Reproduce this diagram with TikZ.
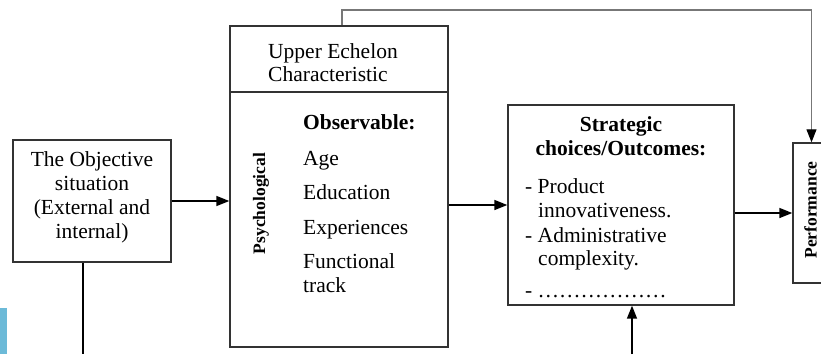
\documentclass[tikz,border=0pt]{standalone}
\usepackage{fontspec}
\setmainfont{Liberation Serif}
\usetikzlibrary{arrows.meta}
\definecolor{boxline}{HTML}{333333}
\definecolor{fbline}{HTML}{777777}
\definecolor{tabblue}{HTML}{6CBAD8}
\tikzset{
  box/.style={draw=boxline, line width=1.4pt, inner sep=0pt},
  arr/.style={draw=black, line width=1.6pt, -{Triangle[length=13pt,width=10pt]}},
  plain/.style={draw=black, line width=1.6pt},
  txt/.style={inner sep=0pt, font=\fontsize{21.5}{24}\selectfont},
  btxt/.style={inner sep=0pt, font=\fontsize{21.5}{24}\selectfont\bfseries},
  vtxt/.style={inner sep=0pt, rotate=90, anchor=base, font=\fontsize{17.5}{20}\selectfont\bfseries},
}
\begin{document}
\begin{tikzpicture}[x=1pt,y=-1pt]
\useasboundingbox (0,0) rectangle (821,354);
\clip (0,0) rectangle (821,354);
% side tab
\fill[tabblue] (0,308) rectangle (7,354);
% boxes
\node[box, minimum width=158pt, minimum height=122pt] (obj) at (92,201) {};
\node[box, minimum width=218pt, minimum height=321pt] (ue) at (339,186.5) {};
\node[box, minimum width=226pt, minimum height=200pt] (strat) at (621,205) {};
\node[box, minimum width=37pt, minimum height=140pt] (perf) at (811.5,213) {};
% divider in upper echelon box
\coordinate (divl) at (230,92);
\coordinate (divr) at (448,92);
\draw[boxline, line width=1.4pt] (ue.west |- divl) -- (ue.east |- divr);
% objective text
\node[txt, anchor=base] (o1) at (92,166) {The Objective};
\node[txt, anchor=base] (o2) at (92,190) {situation};
\node[txt, anchor=base] (o3) at (92,214) {(External and};
\node[txt, anchor=base] (o4) at (92,238) {internal)};
% upper echelon title
\node[txt, anchor=base west] (u1) at (268,58) {Upper Echelon};
\node[txt, anchor=base west] (u2) at (268,81) {Characteristic};
% psychological
\node[vtxt] (psy) at (265,203.5) {Psychological};
% observable list
\node[btxt, anchor=base west] (l0) at (303,129) {Observable:};
\node[txt, anchor=base west] (l1) at (303,165) {Age};
\node[txt, anchor=base west] (l2) at (303,199) {Education};
\node[txt, anchor=base west] (l3) at (303,234) {Experiences};
\node[txt, anchor=base west] (l4) at (303,268) {Functional};
\node[txt, anchor=base west] (l5) at (303,292) {track};
% strategic text
\node[btxt, anchor=base] (s1) at (621,131) {Strategic};
\node[btxt, anchor=base] (s2) at (621,155) {choices/Outcomes:};
\node[txt, anchor=base west] (s3) at (525,193) {- Product};
\node[txt, anchor=base west] (s4) at (538,217) {innovativeness.};
\node[txt, anchor=base west] (s5) at (525,242) {- Administrative};
\node[txt, anchor=base west] (s6) at (538,265) {complexity.};
\node[txt, anchor=base west] (s7) at (525,297) {- ………………};
% performance
\node[vtxt] (perft) at (816.5,210) {Performance};
% connectors
\draw[arr] (obj.east) -- (ue.west |- obj.east);
\draw[arr] (ue.east |- strat.west) -- (strat.west);
\draw[arr] (strat.east |- perf.west) -- (perf.west);
\coordinate (fb) at (342,10);
\draw[fbline, line width=1.1pt, -{Triangle[length=13pt,width=10pt,color=black]}] (ue.north -| fb) -- (fb) -| (perf.north);
\coordinate (b1) at (83,354);
\draw[plain] (obj.south -| b1) -- (b1);
\coordinate (b2) at (632,354);
\draw[arr] (b2) -- (strat.south -| b2);
\end{tikzpicture}
\end{document}
